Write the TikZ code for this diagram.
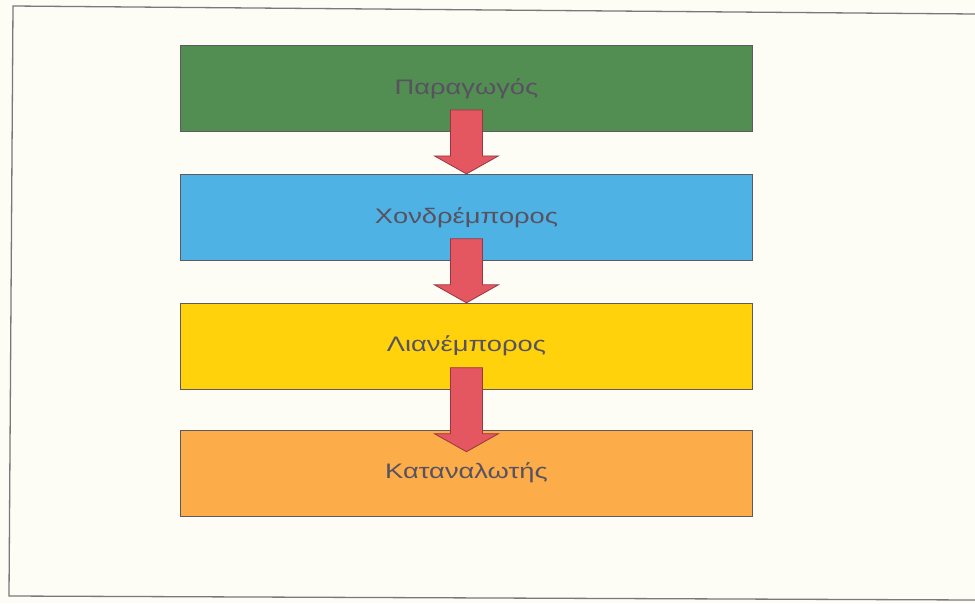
\documentclass[tikz,border=0pt]{standalone}
\usepackage{fontspec}
\usepackage{xcolor}
\usepackage{tikz}
\usetikzlibrary{positioning,calc}
\newfontfamily\boxfont[FakeStretch=1.3]{Liberation Sans}
\definecolor{paper}{RGB}{253,253,246}
\definecolor{framegray}{RGB}{120,120,125}
\definecolor{edgegray}{RGB}{95,90,95}
\definecolor{txtgray}{RGB}{88,82,96}
\definecolor{prodgreen}{RGB}{82,141,82}
\definecolor{wholeblue}{RGB}{78,178,228}
\definecolor{retailyellow}{RGB}{255,210,12}
\definecolor{consorange}{RGB}{252,172,72}
\definecolor{arrowred}{RGB}{228,86,96}
\definecolor{arrowedge}{RGB}{150,55,65}
\tikzset{
  chainbox/.style={rectangle, draw=edgegray, line width=0.9pt, minimum width=572pt, minimum height=86pt, inner sep=0pt, text=txtgray, font=\boxfont\fontsize{21}{24}\selectfont},
  blockarrow/.style={fill=arrowred, draw=arrowedge, line width=0.8pt, line join=miter},
  frame/.style={draw=framegray, line width=1.3pt}
}
\begin{document}
\begin{tikzpicture}[x=1pt, y=-1pt, node distance=42pt]
\fill[paper] (0,0) rectangle (975,603);
\useasboundingbox (0,0) rectangle (975,603);
\draw[frame] (975,14) -- (13,6) -- (9,596) -- (975,600);
\node[chainbox, fill=prodgreen, anchor=north west] (prod) at (180,45) {Παραγωγός};
\node[chainbox, fill=wholeblue, below=of prod] (whole) {Χονδρέμπορος};
\node[chainbox, fill=retailyellow, below=of whole] (retail) {Λιανέμπορος};
\node[chainbox, fill=consorange, below=40pt of retail] (cons) {Καταναλωτής};
\foreach \a/\b/\t in {prod/whole/0, whole/retail/0, retail/cons/22}{
  \draw[blockarrow] ($(\a.south)+(-16,-22)$) -- ($(\a.south)+(16,-22)$) -- ($(\b.north)+(16,\t-18)$) -- ($(\b.north)+(32,\t-18)$) -- ($(\b.north)+(0,\t)$) -- ($(\b.north)+(-32,\t-18)$) -- ($(\b.north)+(-16,\t-18)$) -- cycle;
}
\end{tikzpicture}
\end{document}
